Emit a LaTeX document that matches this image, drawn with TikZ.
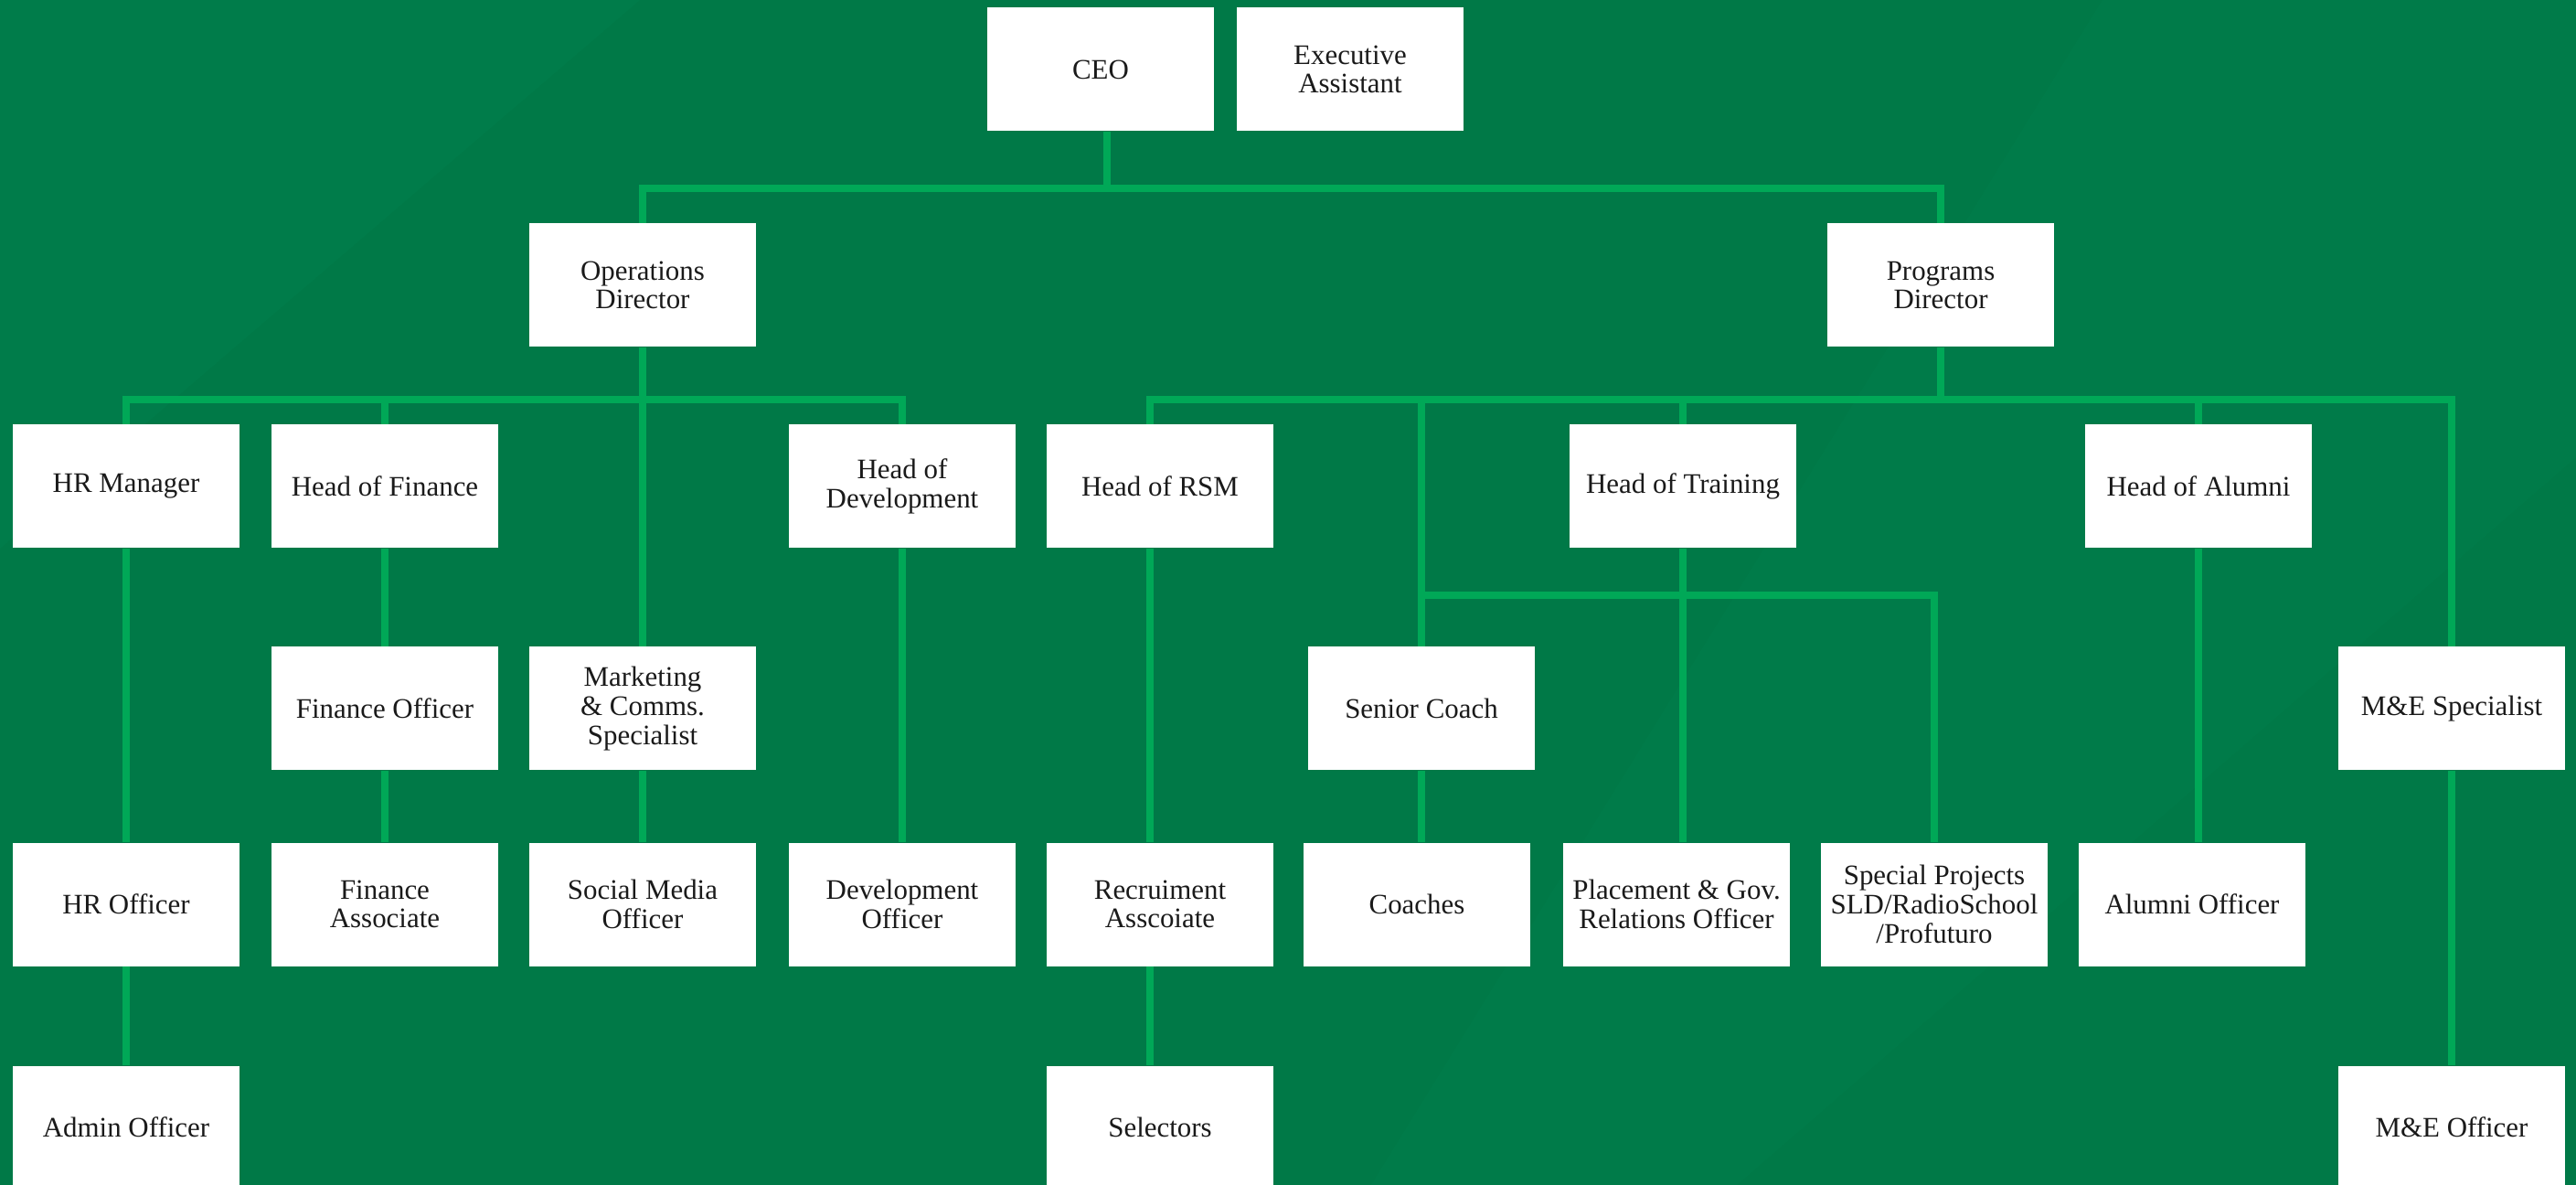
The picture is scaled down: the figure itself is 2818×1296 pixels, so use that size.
\documentclass[tikz,border=0pt]{standalone}
\usepackage{fontspec}
\setmainfont{Liberation Serif}
\definecolor{bggreen}{HTML}{007947}
\definecolor{bglight}{HTML}{007E4C}
\definecolor{linegreen}{HTML}{00A857}
\definecolor{txt}{HTML}{1A1A1A}
\begin{document}
\begin{tikzpicture}[x=0.1mm,y=-0.1mm,
  box/.style={fill=white,draw=none,minimum width=24.8mm,minimum height=13.5mm,inner sep=0pt,
    align=center,text=txt,font=\fontsize{8.8pt}{9pt}\selectfont},
  conn/.style={draw=linegreen,line width=0.75mm,line join=miter}]
\useasboundingbox (0,0) rectangle (2818,1296);
\fill[bggreen] (0,0) rectangle (2818,1296);
\fill[bglight,opacity=0.6] (0,0) -- (700,0) -- (0,600) -- cycle;
\fill[bglight,opacity=0.5] (2300,0) -- (2818,0) -- (2818,500) -- (1900,1296) -- (1500,1296) -- cycle;
\clip (0,0) rectangle (2818,1296);
% bus coordinates
\coordinate (cbus) at (0,206);
\coordinate (obus) at (0,437);
\coordinate (pbus) at (0,437);
\coordinate (tbus) at (0,651);
% row 0
\node[box] (ceo) at (1204,76) {CEO};
\node[box] (exa) at (1477,76) {Executive\\Assistant};
% row 1
\node[box] (ops) at (703,312) {Operations\\Director};
\node[box] (prog) at (2123,312) {Programs\\Director};
% row 2
\node[box] (hrm) at (138,532) {HR Manager};
\node[box] (hof) at (421,532) {Head of Finance};
\node[box] (hod) at (987,532) {Head of\\Development};
\node[box] (rsm) at (1269,532) {Head of RSM};
\node[box] (hot) at (1841,532) {Head of Training};
\node[box] (hal) at (2405,532) {Head of Alumni};
% row 3
\node[box] (fio) at (421,775) {Finance Officer};
\node[box] (mkt) at (703,775) {Marketing\\\& Comms.\\Specialist};
\node[box] (sc) at (1555,775) {Senior Coach};
\node[box] (mes) at (2682,775) {M\&E Specialist};
% row 4
\node[box] (hro) at (138,989) {HR Officer};
\node[box] (fia) at (421,989) {Finance\\Associate};
\node[box] (smo) at (703,989) {Social Media\\Officer};
\node[box] (dvo) at (987,989) {Development\\Officer};
\node[box] (rec) at (1269,989) {Recruiment\\Asscoiate};
\node[box] (coa) at (1550,989) {Coaches};
\node[box] (plc) at (1834,989) {Placement \& Gov.\\Relations Officer};
\node[box] (spp) at (2116,989) {Special Projects\\SLD/RadioSchool\\/Profuturo};
\node[box] (alo) at (2398,989) {Alumni Officer};
% row 5
\node[box] (adm) at (138,1233) {Admin Officer};
\node[box] (sel) at (1269,1233) {Selectors};
\node[box] (meo) at (2682,1233) {M\&E Officer};
% CEO level
\draw[conn] ([xshift=0.7mm]ceo.south) -- ([xshift=0.7mm]ceo.south |- cbus);
\draw[conn] (ops.north) -- (ops.north |- cbus) -- (prog.north |- cbus) -- (prog.north);
% operations
\draw[conn] (hrm.north) -- (hrm.north |- obus) -- (hod.north |- obus) -- (hod.north);
\draw[conn] (hof.north) -- (hof.north |- obus);
\draw[conn] (ops.south) -- (mkt.north);
\draw[conn] (hrm.south) -- (hro.north);
\draw[conn] (hro.south) -- (adm.north);
\draw[conn] (hof.south) -- (fio.north);
\draw[conn] (fio.south) -- (fia.north);
\draw[conn] (mkt.south) -- (smo.north);
\draw[conn] (hod.south) -- (dvo.north);
% programs
\draw[conn] ([xshift=-1.1mm]rsm.north) -- ([xshift=-1.1mm]rsm.north |- pbus) -- (mes.north |- pbus) -- (mes.north);
\draw[conn] (prog.south) -- (prog.south |- pbus);
\draw[conn] (hot.north) -- (hot.north |- pbus);
\draw[conn] (hal.north) -- (hal.north |- pbus);
\draw[conn] (sc.north) -- (sc.north |- pbus);
\draw[conn] (sc.north |- tbus) -- (spp.north |- tbus) -- (spp.north);
\draw[conn] (hot.south) -- (hot.south |- plc.north);
\draw[conn] ([xshift=-1.1mm]rsm.south) -- ([xshift=-1.1mm]rec.north);
\draw[conn] ([xshift=-1.1mm]rec.south) -- ([xshift=-1.1mm]sel.north);
\draw[conn] (sc.south) -- (sc.south |- coa.north);
\draw[conn] (hal.south) -- (hal.south |- alo.north);
\draw[conn] (mes.south) -- (meo.north);
\end{tikzpicture}
\end{document}
